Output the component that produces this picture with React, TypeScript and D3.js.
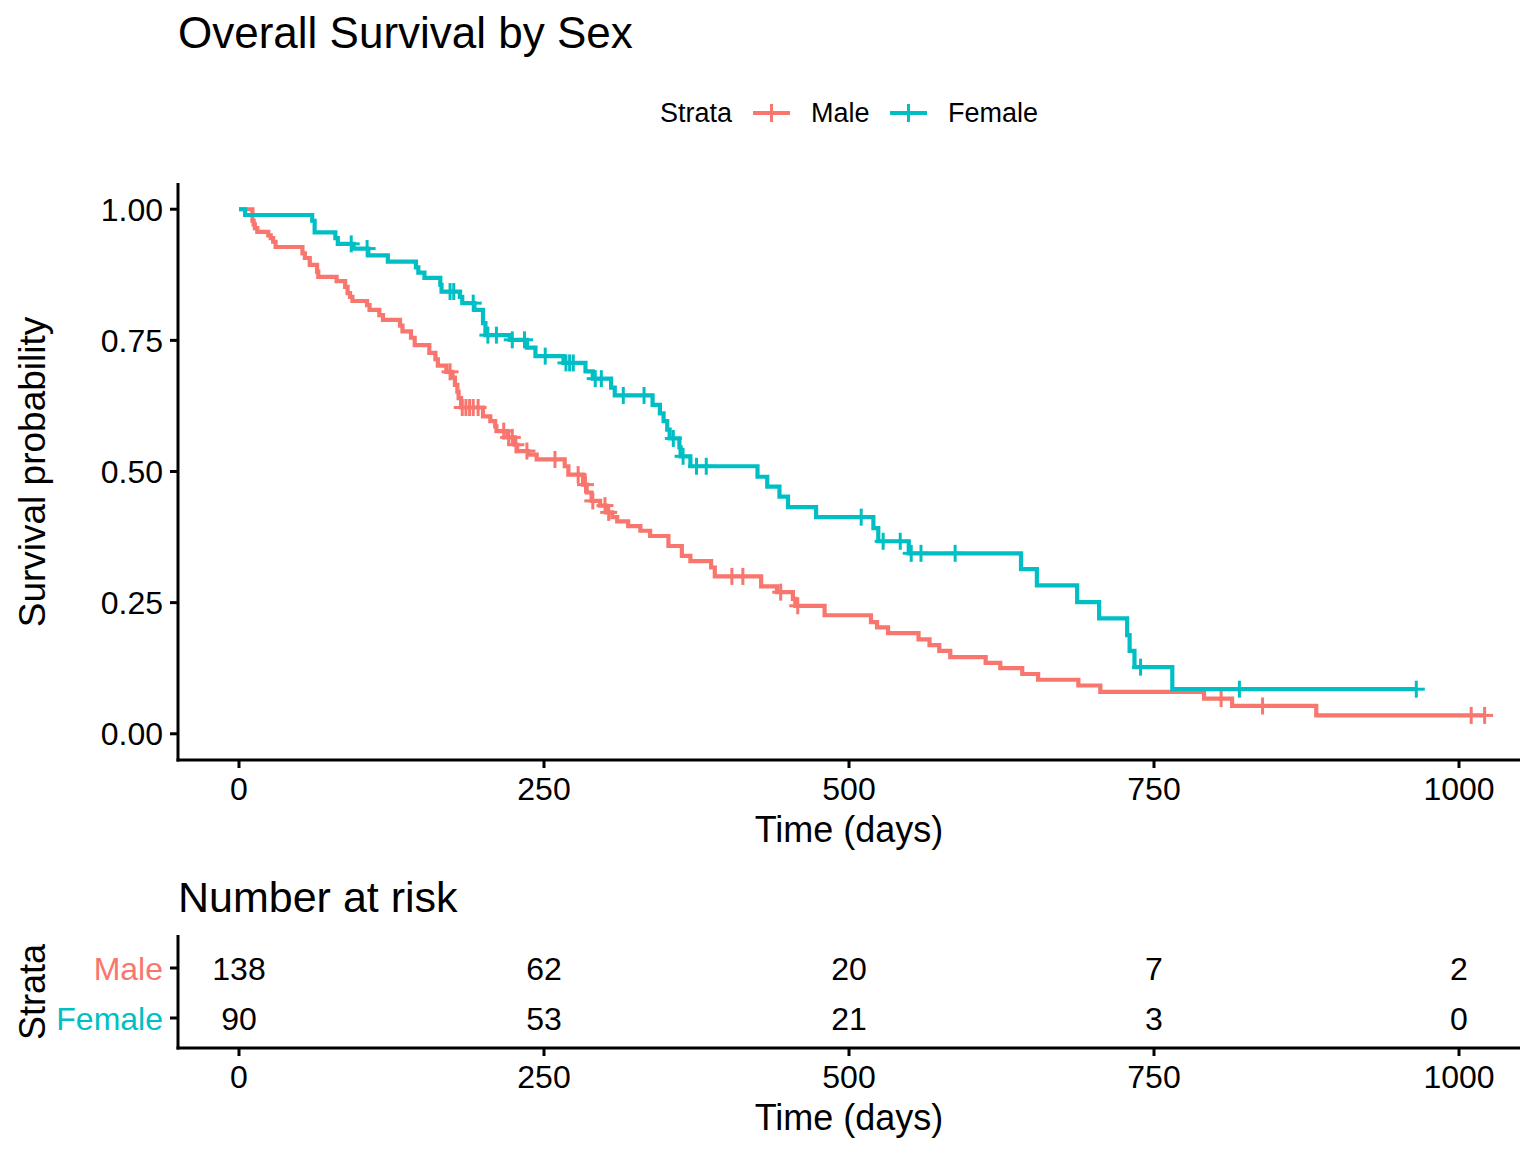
import React from 'react';
import * as d3 from 'd3';

// Kaplan-Meier steps (time in days, survival after the drop)
const maleTimes = [0, 11, 12, 13, 15, 24, 26, 28, 30, 52, 54, 58, 64, 65, 80, 87, 89, 91, 93, 105, 107, 115, 118, 132, 134, 141, 144, 156, 161, 163, 170, 175, 177, 179, 180, 182, 200, 206, 210, 211, 220, 226, 228, 237, 244, 267, 270, 282, 285, 289, 296, 301, 306, 310, 319, 329, 337, 352, 363, 370, 387, 390, 428, 441, 454, 456, 480, 518, 523, 532, 557, 566, 574, 583, 612, 624, 642, 655, 688, 706, 791, 814, 883];
const maleSurv = [1, 0.978, 0.971, 0.964, 0.957, 0.95, 0.945, 0.938, 0.928, 0.916, 0.907, 0.894, 0.881, 0.871, 0.863, 0.852, 0.84, 0.833, 0.825, 0.817, 0.808, 0.798, 0.789, 0.778, 0.767, 0.755, 0.741, 0.726, 0.714, 0.702, 0.69, 0.679, 0.665, 0.652, 0.64, 0.622, 0.605, 0.596, 0.586, 0.577, 0.565, 0.551, 0.539, 0.532, 0.523, 0.51, 0.494, 0.475, 0.46, 0.444, 0.435, 0.422, 0.413, 0.405, 0.396, 0.387, 0.377, 0.358, 0.339, 0.329, 0.317, 0.3, 0.281, 0.27, 0.257, 0.244, 0.226, 0.213, 0.203, 0.192, 0.18, 0.169, 0.158, 0.146, 0.135, 0.125, 0.114, 0.103, 0.092, 0.08, 0.067, 0.053, 0.035];
const maleCensor = [173, 183, 186, 189, 192, 196, 217, 221, 224, 227, 236, 259, 278, 284, 290, 300, 303, 404, 413, 444, 458, 805, 839, 1010, 1021];
const maleEnd = 1022;

const femaleTimes = [0, 5, 60, 62, 79, 81, 94, 106, 122, 145, 147, 152, 165, 166, 181, 183, 193, 200, 202, 222, 236, 243, 266, 284, 290, 305, 308, 339, 345, 348, 351, 353, 361, 362, 370, 425, 433, 443, 450, 473, 520, 524, 549, 641, 654, 687, 705, 728, 730, 734, 765];
const femaleSurv = [1, 0.989, 0.978, 0.956, 0.945, 0.934, 0.925, 0.912, 0.9, 0.889, 0.879, 0.869, 0.856, 0.843, 0.833, 0.821, 0.808, 0.783, 0.76, 0.751, 0.736, 0.72, 0.707, 0.691, 0.677, 0.66, 0.645, 0.627, 0.611, 0.596, 0.58, 0.563, 0.546, 0.529, 0.51, 0.49, 0.471, 0.452, 0.432, 0.413, 0.392, 0.367, 0.344, 0.314, 0.283, 0.251, 0.22, 0.188, 0.158, 0.127, 0.085];
const femaleCensor = [92, 105, 173, 176, 192, 204, 211, 224, 234, 251, 268, 271, 274, 292, 297, 315, 332, 356, 364, 375, 383, 510, 528, 542, 551, 559, 587, 739, 820, 965];
const femaleEnd = 965;

const strata = ['Male', 'Female'];
const colors = ['#F8766D', '#00BFC4'];

const timeTicks = [0, 250, 500, 750, 1000];
const survTicks = [0, 0.25, 0.5, 0.75, 1];
const maleRisk = [138, 62, 20, 7, 2];
const femaleRisk = [90, 53, 21, 3, 0];

const FONT = '"Liberation Sans", Arial, sans-serif';

const App: React.FC = () => {
  const width = 1536;
  const height = 1152;
  const left = 178;
  const right = 1520;
  const plotTop = 183;
  const plotBottom = 760;
  const riskTop = 935;
  const riskBottom = 1048;

  const x = d3.scaleLinear().domain([-50, 1050]).range([left, right]);
  const y = d3.scaleLinear().domain([-0.05, 1.05]).range([plotBottom, plotTop]);
  const yRisk = d3.scalePoint<string>().domain(strata).range([968, 1018]);

  const line = d3.line<[number, number]>()
    .x(d => x(d[0]))
    .y(d => y(d[1]))
    .curve(d3.curveStepAfter);

  const curves = [
    { times: maleTimes, surv: maleSurv, censor: maleCensor, end: maleEnd },
    { times: femaleTimes, surv: femaleSurv, censor: femaleCensor, end: femaleEnd },
  ];

  const survAt = (times: number[], surv: number[], t: number) => {
    const i = d3.bisectRight(times, t) - 1;
    return surv[Math.max(0, i)];
  };

  const risks = [maleRisk, femaleRisk];

  return (
    <svg width={width} height={height} style={{ position: 'absolute', left: 0, top: 0, background: '#fff' }} fontFamily={FONT}>
      <rect width={width} height={height} fill="#fff" />
      <text x={178} y={48} fontSize={44}>Overall Survival by Sex</text>

      {/* legend */}
      <g fontSize={27}>
        <text x={660} y={122}>Strata</text>
        {strata.map((s, i) => {
          const kx = i === 0 ? 753 : 890;
          const tx = i === 0 ? 811 : 948;
          return (
            <g key={s}>
              <line x1={kx} x2={kx + 37} y1={113} y2={113} stroke={colors[i]} strokeWidth={4} />
              <line x1={kx + 18.5} x2={kx + 18.5} y1={104} y2={122} stroke={colors[i]} strokeWidth={3} />
              <text x={tx} y={122}>{s}</text>
            </g>
          );
        })}
      </g>

      {/* curves */}
      {curves.map((c, i) => {
        const pts: [number, number][] = c.times.map((t, j) => [t, c.surv[j]] as [number, number]);
        pts.push([c.end, c.surv[c.surv.length - 1]]);
        return (
          <g key={i}>
            <path d={line(pts) || ''} fill="none" stroke={colors[i]} strokeWidth={4.2} />
            {c.censor.map((t, j) => {
              const cx = x(t);
              const cy = y(survAt(c.times, c.surv, t));
              return (
                <g key={j} stroke={colors[i]} strokeWidth={3}>
                  <line x1={cx - 8.5} x2={cx + 8.5} y1={cy} y2={cy} />
                  <line x1={cx} x2={cx} y1={cy - 8.5} y2={cy + 8.5} />
                </g>
              );
            })}
          </g>
        );
      })}

      {/* main axes */}
      <g stroke="#000" strokeWidth={3}>
        <line x1={left} x2={left} y1={plotTop} y2={plotBottom + 1.5} />
        <line x1={left - 1.5} x2={right} y1={plotBottom} y2={plotBottom} />
        {survTicks.map(t => (
          <line key={t} x1={left - 8} x2={left} y1={y(t)} y2={y(t)} />
        ))}
        {timeTicks.map(t => (
          <line key={t} x1={x(t)} x2={x(t)} y1={plotBottom} y2={plotBottom + 8} />
        ))}
      </g>
      <g fontSize={32}>
        {survTicks.map(t => (
          <text key={t} x={163} y={y(t)} dy="0.36em" textAnchor="end">{d3.format('.2f')(t)}</text>
        ))}
        {timeTicks.map(t => (
          <text key={t} x={x(t)} y={800} textAnchor="middle">{t}</text>
        ))}
      </g>
      <text x={849} y={842} fontSize={36} textAnchor="middle">Time (days)</text>
      <text transform="translate(45,472) rotate(-90)" fontSize={37} textAnchor="middle">Survival probability</text>

      {/* risk table */}
      <text x={178} y={912} fontSize={43}>Number at risk</text>
      <g stroke="#000" strokeWidth={3}>
        <line x1={left} x2={left} y1={riskTop} y2={riskBottom + 1.5} />
        <line x1={left - 1.5} x2={right} y1={riskBottom} y2={riskBottom} />
        {strata.map(s => (
          <line key={s} x1={left - 8} x2={left} y1={yRisk(s)!} y2={yRisk(s)!} />
        ))}
        {timeTicks.map(t => (
          <line key={t} x1={x(t)} x2={x(t)} y1={riskBottom} y2={riskBottom + 8} />
        ))}
      </g>
      <g fontSize={32}>
        {strata.map((s, i) => (
          <text key={s} x={163} y={yRisk(s)!} dy="0.36em" textAnchor="end" fill={colors[i]}>{s}</text>
        ))}
        {strata.map((s, i) =>
          timeTicks.map((t, j) => (
            <text key={s + t} x={x(t)} y={yRisk(s)!} dy="0.36em" textAnchor="middle">{risks[i][j]}</text>
          ))
        )}
        {timeTicks.map(t => (
          <text key={t} x={x(t)} y={1088} textAnchor="middle">{t}</text>
        ))}
      </g>
      <text x={849} y={1130} fontSize={36} textAnchor="middle">Time (days)</text>
      <text transform="translate(45,992) rotate(-90)" fontSize={36} textAnchor="middle">Strata</text>
    </svg>
  );
};

export default App;
